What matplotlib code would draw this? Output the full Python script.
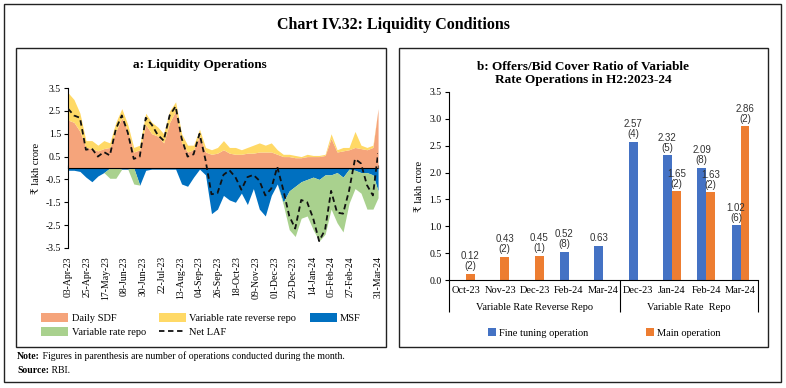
import numpy as np
import pandas as pd
import matplotlib
matplotlib.use("Agg")
import matplotlib.pyplot as plt
import matplotlib.transforms as mtrans
from matplotlib.patches import Rectangle, Patch
from matplotlib.lines import Line2D

plt.rcParams.update({"font.family": ["Liberation Serif", "DejaVu Serif", "DejaVu Sans"],
                     "font.size": 7, "axes.unicode_minus": False})

# ---- panel a: liquidity operations (weekly readings, lakh crore) ----
dates = list(pd.date_range("2023-04-03", periods=52, freq="7D")) + [pd.Timestamp("2024-03-31")]
sdf = [2.1, 2.0, 1.6, 0.9, 0.85, 0.75, 0.85, 0.9, 1.6, 2.2, 1.6, 0.7, 0.8, 1.9, 1.5, 1.4,
       1.1, 2.0, 2.5, 1.1, 0.7, 0.8, 1.4, 0.7, 0.6, 0.65, 0.8, 0.65, 0.6, 0.6, 0.65, 0.65,
       0.7, 0.7, 0.7, 0.6, 0.5, 0.5, 0.45, 0.45, 0.5, 0.5, 0.5, 0.55, 1.3, 0.7, 0.75, 0.8,
       0.9, 0.85, 0.8, 0.9, 2.6]
vrrr = [1.2, 1.0, 0.8, 0.3, 0.35, 0.25, 0.35, 0.2, 0.4, 0.4, 0.3, 0.2, 0.2, 0.5, 0.5, 0.4,
        0.4, 0.5, 0.4, 0.4, 0.3, 0.2, 0.3, 0.2, 0.2, 0.25, 0.4, 0.25, 0.3, 0.2, 0.25, 0.35,
        0.4, 0.3, 0.4, 0.2, 0.1, 0.1, 0.1, 0.05, 0.1, 0.05, 0.05, 0.05, 0.2, 0.1, 0.15, 0.1,
        0.7, 0.15, 0.1, 0.1, 0.0]
msf = [0.1, 0.1, 0.15, 0.4, 0.6, 0.35, 0.2, 0.0, 0.0, 0.05, 0.05, 0.0, 0.75, 0.1, 0.05, 0.05,
       0.05, 0.05, 0.05, 0.7, 0.8, 0.4, 0.05, 0.3, 2.0, 1.8, 1.2, 1.4, 1.5, 1.1, 1.6, 0.9,
       1.8, 2.1, 1.2, 0.7, 1.5, 1.0, 0.8, 0.6, 0.5, 0.4, 0.5, 0.3, 0.3, 0.2, 0.4, 0.05,
       0.1, 0.2, 0.2, 0.3, 1.0]
vrr = [0, 0, 0, 0, 0, 0, 0, 0.45, 0.45, 0, 0, 0.7, 0, 0, 0, 0,
       0, 0, 0, 0, 0, 0, 0, 0, 0, 0, 0, 0, 0, 0, 0, 0,
       0, 0, 0, 0, 0.1, 1.7, 2.2, 1.6, 1.6, 2.3, 2.7, 2.6, 1.5, 2.2, 2.4, 1.5,
       0.8, 0.9, 1.6, 1.5, 0.3]
net_laf = [2.6, 2.3, 2.2, 0.8, 0.85, 0.5, 0.7, 0.55, 1.7, 2.3, 1.55, 0.4, 0.5, 2.2, 1.9, 1.45,
           1.2, 2.3, 2.7, 1.3, 0.5, 0.6, 1.5, 0.35, -1.15, -1.1, -0.3, -0.1, -0.4, -0.95, -0.4, -0.3,
           -0.55, -1.2, -0.9, 0.05, -0.95, -2.1, -2.65, -1.4, -1.5, -2.2, -3.2, -2.7, -1.0, -1.95, -2.0, -1.0,
           0.4, 0.2, -0.75, -1.2, 0.65]
tick_dates = ["2023-04-03", "2023-04-25", "2023-05-17", "2023-06-08", "2023-06-30", "2023-07-22",
              "2023-08-13", "2023-09-04", "2023-09-26", "2023-10-18", "2023-11-09", "2023-12-01",
              "2023-12-23", "2024-01-14", "2024-02-05", "2024-02-27", "2024-03-31"]

# ---- panel b: offers/bid cover ratio ----
months_b = ["Oct-23", "Nov-23", "Dec-23", "Feb-24", "Mar-24", "Dec-23", "Jan-24", "Feb-24", "Mar-24"]
groups_b = ["Variable Rate Reverse Repo", "Variable Rate  Repo"]
fine_vals = [np.nan, np.nan, np.nan, 0.52, 0.63, 2.57, 2.32, 2.09, 1.02]
main_vals = [0.12, 0.43, 0.45, np.nan, np.nan, np.nan, 1.65, 1.63, 2.86]
fine_ops = [None, None, None, 8, None, 4, 5, 8, 6]
main_ops = [2, 2, 1, None, None, None, 2, 2, 2]

SDF_C = "#F5A47B"; VRRR_C = "#FFD966"; MSF_C = "#0070C0"; VRR_C = "#A9D18E"
BLUE = "#4472C4"; ORANGE = "#ED7D31"

fig = plt.figure(figsize=(7.86, 3.88), dpi=100)

# frames
fig.patches.append(Rectangle((0.005, 0.0155), 0.989, 0.974, transform=fig.transFigure,
                             fill=False, lw=1.0, ec="#222222"))
fig.patches.append(Rectangle((0.0204, 0.1057), 0.4706, 0.7703, transform=fig.transFigure,
                             fill=False, lw=1.0, ec="#222222"))
fig.patches.append(Rectangle((0.5076, 0.1057), 0.4694, 0.7703, transform=fig.transFigure,
                             fill=False, lw=1.0, ec="#222222"))

fig.text(0.5, 0.936, "Chart IV.32: Liquidity Conditions", ha="center", va="center",
         fontsize=11.5, fontweight="bold")
fig.text(0.254, 0.832, "a: Liquidity Operations", ha="center", va="center",
         fontsize=9.5, fontweight="bold")
fig.text(0.742, 0.81, "b: Offers/Bid Cover Ratio of Variable\nRate Operations in H2:2023-24",
         ha="center", va="center", fontsize=9.5, fontweight="bold", linespacing=1.15)

# ---- panel a ----
ax = fig.add_axes([0.0865, 0.361, 0.3945, 0.412])
sdf = np.array(sdf); vrrr = np.array(vrrr); msf = np.array(msf); vrr = np.array(vrr)
ax.fill_between(dates, 0, sdf, color=SDF_C, lw=0, label="Daily SDF")
ax.fill_between(dates, sdf, sdf + vrrr, color=VRRR_C, lw=0, label="Variable rate reverse repo")
ax.fill_between(dates, 0, -msf, color=MSF_C, lw=0, label="MSF")
ax.fill_between(dates, -msf, -(msf + vrr), color=VRR_C, lw=0, label="Variable rate repo")
ax.plot(dates, net_laf, color="#111111", lw=1.3, ls=(0, (3, 2)), label="Net LAF", zorder=4)
ax.axhline(0, color="black", lw=0.8, zorder=3)
ax.set_ylim(-3.5, 3.5)
ax.set_xlim(dates[0], dates[-1])
ax.set_yticks([3.5, 2.5, 1.5, 0.5, -0.5, -1.5, -2.5, -3.5])
ax.set_yticklabels([f"{v:.1f}" for v in [3.5, 2.5, 1.5, 0.5, -0.5, -1.5, -2.5, -3.5]])
td = pd.to_datetime(tick_dates)
ax.set_xticks(td)
ax.set_xticklabels([d.strftime("%d-%b-%y") for d in td], rotation=90, fontsize=7)
ax.tick_params(axis="x", length=0, pad=6)
ax.tick_params(axis="y", direction="out", length=3, labelsize=7, pad=2)
for s in ("top", "right", "bottom"):
    ax.spines[s].set_visible(False)
sec = ax.secondary_xaxis(0.5)
sec.set_xticks(td)
sec.set_xticklabels([])
sec.tick_params(direction="out", length=2.5, width=0.8)
sec.spines["bottom"].set_linewidth(0.8)
ax.set_ylabel("₹ lakh crore", fontsize=7.5, labelpad=3)

h, l = ax.get_legend_handles_labels()
order = [0, 3, 1, 4, 2]
leg = fig.legend([h[i] for i in order], [l[i] for i in order], ncol=3, frameon=False,
                 loc="center left", bbox_to_anchor=(0.046, 0.162), fontsize=7.5,
                 handlelength=2.6, handleheight=0.9, columnspacing=1.3, labelspacing=0.45,
                 handletextpad=0.3, borderpad=0)

# ---- panel b ----
bx = fig.add_axes([0.571, 0.278, 0.393, 0.485])
x = np.arange(len(months_b))
w = 0.26
bx.bar(x - w / 2, fine_vals, width=w, color=BLUE, label="Fine tuning operation")
bx.bar(x + w / 2, main_vals, width=w, color=ORANGE, label="Main operation")
for xi, v, n in zip(x - w / 2, fine_vals, fine_ops):
    if not np.isnan(v):
        txt = f"{v:.2f}" + (f"\n({n})" if n is not None else "")
        bx.annotate(txt, (xi, v), xytext=(0, 2), textcoords="offset points", ha="center",
                    va="bottom", fontsize=7, linespacing=1.0, family=["Liberation Sans", "DejaVu Sans"],
                    color="#333333")
for xi, v, n in zip(x + w / 2, main_vals, main_ops):
    if not np.isnan(v):
        txt = f"{v:.2f}" + (f"\n({n})" if n is not None else "")
        bx.annotate(txt, (xi, v), xytext=(0, 2), textcoords="offset points", ha="center",
                    va="bottom", fontsize=7, linespacing=1.0, family=["Liberation Sans", "DejaVu Sans"],
                    color="#333333")
bx.set_xlim(-0.5, len(months_b) - 0.5)
bx.set_ylim(0, 3.5)
bx.set_yticks(np.arange(0, 3.51, 0.5))
bx.set_yticklabels([f"{v:.1f}" for v in np.arange(0, 3.51, 0.5)])
bx.set_xticks(x)
bx.set_xticklabels(months_b, fontsize=7.5)
bx.tick_params(axis="x", length=0, pad=4)
bx.tick_params(axis="y", direction="out", length=3, labelsize=7, pad=2)
for s in ("top", "right"):
    bx.spines[s].set_visible(False)
bx.set_ylabel("₹ lakh crore", fontsize=7.5, labelpad=4)
trans = mtrans.blended_transform_factory(bx.transData, bx.transAxes)
bx.vlines([-0.5, 4.5, len(months_b) - 0.5], -0.17, 0, transform=trans, color="black",
          lw=0.8, clip_on=False)
bx.text(2, -0.145, groups_b[0], transform=trans, ha="center", va="center", fontsize=7.5)
bx.text(6.5, -0.145, groups_b[1], transform=trans, ha="center", va="center", fontsize=7.5)

hb, lb = bx.get_legend_handles_labels()
fig.legend(hb, lb, ncol=2, frameon=False, loc="center", bbox_to_anchor=(0.769, 0.142),
           fontsize=7.5, handlelength=0.75, handleheight=0.75, columnspacing=5.5,
           handletextpad=0.3, borderpad=0)

# ---- notes ----
t1 = fig.text(0.022, 0.08, "Note:", fontsize=7, fontweight="bold", va="center")
fig.text(0.0, 0.0, " Figures in parenthesis are number of operations conducted during the month.",
         fontsize=7)
fig.texts[-1].remove()
fig.add_artist(plt.Annotation(" Figures in parenthesis are number of operations conducted during the month.",
                              xy=(1, 0), xycoords=t1, va="bottom", fontsize=7))
t2 = fig.text(0.022, 0.044, "Source:", fontsize=7, fontweight="bold", va="center")
fig.add_artist(plt.Annotation(" RBI.", xy=(1, 0), xycoords=t2, va="bottom", fontsize=7))

fig.savefig("out.png", dpi=100)
